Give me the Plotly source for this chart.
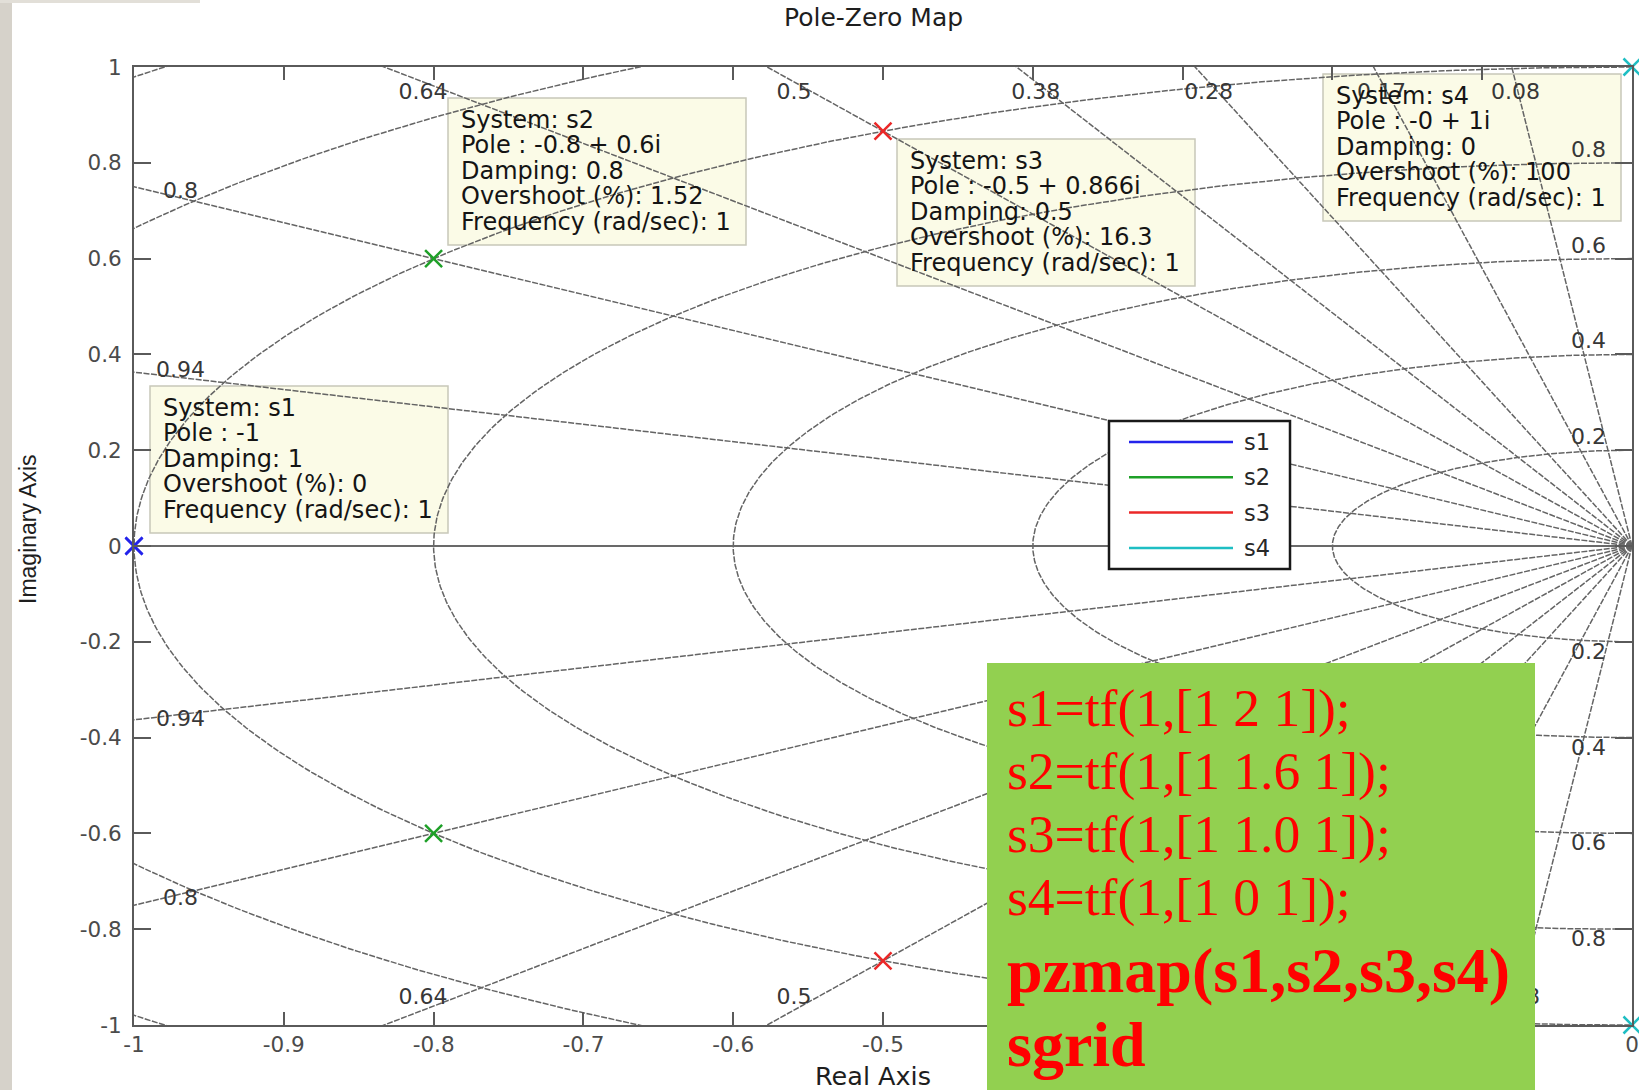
import numpy as np
import plotly.graph_objects as go

# ---- systems: s_k = 1 / den_k(s) ----
systems = ["s1", "s2", "s3", "s4"]
denominators = [[1, 2, 1], [1, 1.6, 1], [1, 1.0, 1], [1, 0, 1]]
pole_colors = ["rgb(35,35,235)", "rgb(30,160,40)", "rgb(235,40,40)", "rgb(30,190,195)"]

# ---- sgrid: damping rays and natural-frequency circles ----
damping_values = [0.08, 0.17, 0.28, 0.38, 0.5, 0.64, 0.8, 0.94]
natural_freqs = [0.2, 0.4, 0.6, 0.8, 1.0, 1.2, 1.4]
freq_labels = [0.2, 0.4, 0.6, 0.8]

# ---- axes ----
x_ticks = [-1, -0.9, -0.8, -0.7, -0.6, -0.5, -0.4, -0.3, -0.2, -0.1, 0]
y_ticks = [-1, -0.8, -0.6, -0.4, -0.2, 0, 0.2, 0.4, 0.6, 0.8, 1]

# ---- MATLAB commands shown in the overlay ----
code_lines = ["s1=tf(1,[1 2 1]);", "s2=tf(1,[1 1.6 1]);", "s3=tf(1,[1 1.0 1]);",
              "s4=tf(1,[1 0 1]);", "pzmap(s1,s2,s3,s4)", "sgrid"]
code_bold = [False, False, False, False, True, True]

# ---- page geometry (pixels) ----
FW, FH = 1639, 1090
L, R, T, B = 134, 7, 67, 65
W, H = FW - L - R, FH - T - B


def px(X, Y):
    """pixel position -> paper coordinates"""
    return (X - L) / W, (T + H - Y) / H


SANS = "DejaVu Sans"
GRID = "rgb(100,100,100)"
AXIS = "rgb(90,90,90)"
GRID_LINE = dict(color=GRID, width=1.5, dash="6px,1.5px")

fig = go.Figure()

# frequency circles (left half plane)
th = np.linspace(np.pi / 2, 3 * np.pi / 2, 400)
cx, cy = [], []
for wn in natural_freqs:
    cx += list(wn * np.cos(th)) + [None]
    cy += list(wn * np.sin(th)) + [None]
fig.add_trace(go.Scatter(x=cx, y=cy, mode="lines", hoverinfo="skip", line=GRID_LINE))

# damping rays from the origin
rx, ry = [], []
for z in damping_values:
    a = np.arccos(z)
    for sgn in (1, -1):
        rx += [0, -3 * np.cos(a), None]
        ry += [0, sgn * 3 * np.sin(a), None]
fig.add_trace(go.Scatter(x=rx, y=ry, mode="lines", hoverinfo="skip", line=GRID_LINE))

# real axis
fig.add_trace(go.Scatter(x=[-1, 0], y=[0, 0], mode="lines", hoverinfo="skip",
                         line=dict(color="rgb(105,105,105)", width=2)))

# grid labels
lx, ly, lt = [], [], []
for z in damping_values:
    cot = z / np.sqrt(1 - z * z)
    xt = -0.969 * cot
    if xt > -0.96:
        for sgn in (1, -1):
            lx.append(xt); ly.append(sgn * 0.945); lt.append(f"{z:g}")
    else:
        yv = 0.969 / cot + 0.012
        for sgn in (1, -1):
            lx.append(-0.969); ly.append(sgn * yv); lt.append(f"{z:g}")
for wn in freq_labels:
    for sgn in (1, -1):
        lx.append(-0.029); ly.append(sgn * (wn + 0.024)); lt.append(f"{wn:g}")
fig.add_trace(go.Scatter(x=lx, y=ly, text=lt, mode="text", hoverinfo="skip",
                         textfont=dict(family=SANS, size=22, color="rgb(55,55,55)"),
                         cliponaxis=True))

# poles
poles = [np.roots(d) for d in denominators]
for name, p, col in zip(systems, poles, pole_colors):
    fig.add_trace(go.Scatter(x=p.real, y=p.imag, mode="markers", name=name,
                             cliponaxis=False,
                             marker=dict(symbol="x-thin", size=17, color=col,
                                         line=dict(color=col, width=2.5))))

shapes = []
annotations = []

# data tips
tip_boxes = {"s1": (150, 386), "s2": (448, 98), "s3": (897, 139), "s4": (1323, 74)}
TIP_W, TIP_H = 298, 147
for name, p in zip(systems, poles):
    pu = p[np.argmax(p.imag)]
    mag = abs(pu)
    zeta = -pu.real / mag
    os_pct = 0.0 if zeta >= 1 else 100 * np.exp(-zeta * np.pi / np.sqrt(1 - zeta ** 2))
    re_s = ("-" if pu.real <= 0 else "") + f"{abs(pu.real):.3g}"
    pole_s = re_s if abs(pu.imag) < 1e-12 else f"{re_s} + {pu.imag:.3g}i"
    lines = [f"System: {name}", f"Pole : {pole_s}", f"Damping: {zeta:.3g}",
             f"Overshoot (%): {os_pct:.3g}", f"Frequency (rad/sec): {mag:.3g}"]
    bx, by = tip_boxes[name]
    x0, y0 = px(bx, by)
    x1, y1 = px(bx + TIP_W, by + TIP_H)
    shapes.append(dict(type="rect", xref="paper", yref="paper", x0=x0, x1=x1, y0=y1, y1=y0,
                       layer="below", fillcolor="rgb(251,251,231)",
                       line=dict(color="rgb(200,200,185)", width=1.5)))
    for i, s in enumerate(lines):
        ax, ay = px(bx + 11, by + 22 + i * 25.4)
        annotations.append(dict(text=s, xref="paper", yref="paper", x=ax, y=ay,
                                xanchor="left", yanchor="middle", showarrow=False,
                                font=dict(family=SANS, size=24, color="rgb(20,20,20)")))

# legend box
lx0, ly0 = px(1109, 421)
lx1, ly1 = px(1290, 569)
shapes.append(dict(type="rect", xref="paper", yref="paper", x0=lx0, x1=lx1, y0=ly1, y1=ly0,
                   layer="above", fillcolor="white", line=dict(color="rgb(25,25,25)", width=2.5)))
for i, (name, col) in enumerate(zip(systems, pole_colors)):
    yy = 442 + i * 35.3
    a0, b0 = px(1129, yy)
    a1, _ = px(1233, yy)
    shapes.append(dict(type="line", xref="paper", yref="paper", x0=a0, x1=a1, y0=b0, y1=b0,
                       layer="above", line=dict(color=col, width=2.5)))
    tx, ty = px(1242, yy)
    annotations.append(dict(text=name, xref="paper", yref="paper", x=tx, y=ty,
                            xanchor="left", yanchor="middle", showarrow=False,
                            font=dict(family=SANS, size=22.5, color="rgb(40,40,40)")))

# code overlay
gx0, gy0 = px(987, 663)
gx1, gy1 = px(1535, FH)
shapes.append(dict(type="rect", xref="paper", yref="paper", x0=gx0, x1=gx1, y0=gy1, y1=gy0,
                   layer="above", fillcolor="rgb(146,208,80)", line=dict(width=0)))
baselines = [726, 789, 852, 915, 992, 1066]
for s, bold, base in zip(code_lines, code_bold, baselines):
    size = 64 if bold else 53.5
    tx, ty = px(1005, base - 0.3375 * size)
    annotations.append(dict(text=f"<b>{s}</b>" if bold else s, xref="paper", yref="paper",
                            x=tx, y=ty, xanchor="left", yanchor="middle", showarrow=False,
                            font=dict(family="Liberation Serif", size=size, color="rgb(255,0,0)")))

# window frame strips
sx0, sy0 = px(0, 0)
sx1, sy1 = px(12, FH)
shapes.append(dict(type="rect", xref="paper", yref="paper", x0=sx0, x1=sx1, y0=sy1, y1=sy0,
                   layer="above", fillcolor="rgb(214,210,202)", line=dict(width=0)))
tx1, ty1 = px(200, 3)
shapes.append(dict(type="rect", xref="paper", yref="paper", x0=sx0, x1=tx1, y0=ty1, y1=sy0,
                   layer="above", fillcolor="rgb(226,223,216)", line=dict(width=0)))

# titles
for text, X, Y, ang, size in [("Pole-Zero Map", 873, 18, 0, 25),
                              ("Real Axis", 873, 1076, 0, 25.5),
                              ("Imaginary Axis", 28, 529, -90, 23)]:
    ax, ay = px(X, Y)
    annotations.append(dict(text=text, xref="paper", yref="paper", x=ax, y=ay,
                            xanchor="center", yanchor="middle", showarrow=False,
                            textangle=ang,
                            font=dict(family=SANS if ang == 0 else "Liberation Sans",
                                      size=size, color="rgb(30,30,30)")))

axis_common = dict(showgrid=False, zeroline=False, showline=True, linecolor=AXIS, linewidth=2,
                   mirror="ticks", ticks="inside", tickwidth=2, tickcolor=AXIS,
                   tickfont=dict(family=SANS, size=21.5, color="rgb(75,75,75)"),
                   automargin=False, fixedrange=True)

fig.update_layout(
    width=FW, height=FH,
    margin=dict(l=L, r=R, t=T, b=B, autoexpand=False),
    paper_bgcolor="white", plot_bgcolor="white",
    showlegend=False,
    xaxis=dict(range=[-1, 0], tickvals=x_ticks, ticktext=[f"{v:g}" for v in x_ticks],
               ticklen=13, ticklabelstandoff=-1, **axis_common),
    yaxis=dict(range=[-1, 1], tickvals=y_ticks, ticktext=[f"{v:g}" for v in y_ticks],
               ticklen=17, ticklabelstandoff=6, **axis_common),
    shapes=shapes,
    annotations=annotations,
)

fig.write_html("out.html")
